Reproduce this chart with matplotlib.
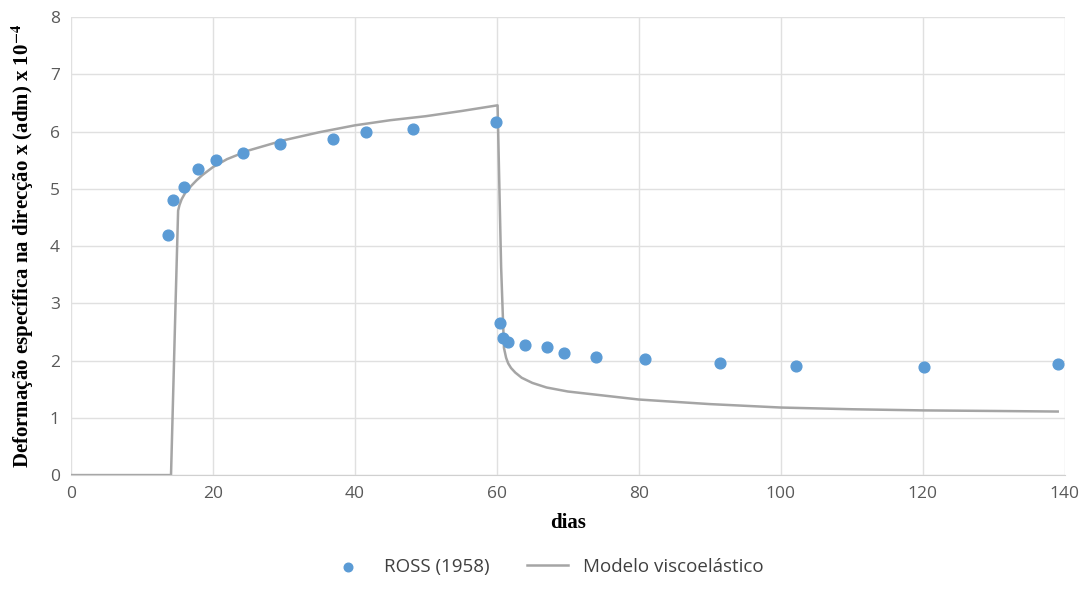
import matplotlib
matplotlib.use("Agg")
import matplotlib.pyplot as plt

plt.rcParams["mathtext.fontset"] = "stix"

# ROSS (1958) - pontos experimentais
ross_dias = [13.7, 14.4, 15.9, 17.9, 20.5, 24.3, 29.4, 36.9, 41.6, 48.2, 59.9,
             60.4, 60.8, 61.6, 63.9, 67.0, 69.4, 74.0, 80.8, 91.4, 102.1, 120.2, 139.1]
ross_def = [4.20, 4.81, 5.03, 5.34, 5.50, 5.63, 5.78, 5.88, 5.99, 6.05, 6.16,
            2.66, 2.40, 2.33, 2.27, 2.23, 2.13, 2.06, 2.02, 1.95, 1.91, 1.89, 1.94]

# Modelo viscoelástico
mod_dias = [0, 14.1, 14.75, 15.1, 15.3, 15.6, 16.1, 17.0, 17.7, 18.5, 20, 22, 25, 30, 35, 40, 45,
            50, 55, 60.1, 60.6, 61.0, 61.3, 61.6, 62.0, 62.6, 63.5, 65, 67, 70, 75, 80, 90, 100,
            110, 120, 130, 139]
mod_def = [0, 0, 3.04, 4.62, 4.72, 4.82, 4.93, 5.06, 5.15, 5.24, 5.38, 5.52, 5.67, 5.85, 5.99,
           6.11, 6.2, 6.27, 6.36, 6.46, 3.63, 2.22, 2.05, 1.95, 1.87, 1.79, 1.70, 1.61, 1.53, 1.46,
           1.39, 1.32, 1.24, 1.18, 1.15, 1.13, 1.12, 1.11]

fig = plt.figure(figsize=(10.91, 6.13), dpi=100)
ax = fig.add_axes([0.065, 0.225, 0.911, 0.747])

ax.plot(mod_dias, mod_def, color="#a5a5a5", lw=1.8, label="Modelo viscoelástico", zorder=2)
ax.scatter(ross_dias, ross_def, s=60, color="#5b9bd5", label="ROSS (1958)", zorder=3)

ax.set_xlim(0, 140)
ax.set_ylim(0, 8)
ax.set_xticks(range(0, 141, 20))
ax.set_yticks(range(0, 9))
ax.grid(True, color="#e0e0e0", lw=1)
ax.set_axisbelow(True)
for s in ["top", "right", "left"]:
    ax.spines[s].set_visible(False)
ax.spines["bottom"].set_color("#d0d0d0")
ax.tick_params(length=0, labelsize=12.5, labelcolor="#595959", pad=8)
for lab in ax.get_xticklabels() + ax.get_yticklabels():
    lab.set_family("Open Sans")

ax.set_xlabel("dias", family="Liberation Serif", fontweight="bold", fontsize=15, labelpad=8)
ax.set_ylabel("Deformação específica na direcção x (adm) x 10$^{\\mathbf{-4}}$",
              family="Liberation Serif", fontweight="bold", fontsize=15)
ax.yaxis.set_label_coords(-0.035, 0.5)

handles, labels = ax.get_legend_handles_labels()
fig.legend(handles[::-1], labels[::-1], loc="center", bbox_to_anchor=(0.5, 0.075), ncol=2,
           frameon=False, prop={"family": "Open Sans", "size": 13.5}, labelcolor="#404040",
           columnspacing=2.0, handlelength=2.2, markerscale=0.8)

fig.savefig("out.png", dpi=100)
